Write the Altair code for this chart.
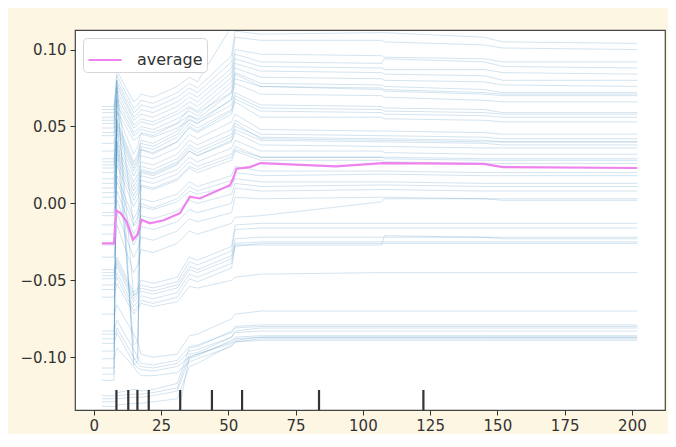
import altair as alt
import pandas as pd

# ---------------- data ----------------
ICE_X = [3, 7.5, 8.6, 14.8, 16.3, 17.5, 22, 31, 35.5, 38.5, 51.2, 52.5, 62, 107, 108, 145, 152, 202]

# top group
t1 = [0.063, 0.063, 0.086, 0.066, 0.068, 0.071, 0.069, 0.076, 0.082, 0.079, 0.115, 0.135, 0.128, 0.127, 0.126, 0.125, 0.122, 0.120]
t2 = [0.061, 0.061, 0.083, 0.062, 0.064, 0.067, 0.065, 0.072, 0.078, 0.075, 0.096, 0.112, 0.110, 0.111, 0.111, 0.108, 0.105, 0.104]
t3 = [0.059, 0.059, 0.080, 0.059, 0.061, 0.064, 0.062, 0.069, 0.075, 0.072, 0.092, 0.108, 0.106, 0.106, 0.105, 0.103, 0.101, 0.100]
t4 = [0.056, 0.056, 0.078, 0.056, 0.058, 0.061, 0.059, 0.066, 0.072, 0.069, 0.088, 0.100, 0.097, 0.096, 0.095, 0.094, 0.092, 0.092]
t5 = [0.054, 0.054, 0.076, 0.054, 0.056, 0.058, 0.056, 0.063, 0.069, 0.066, 0.085, 0.097, 0.092, 0.091, 0.094, 0.092, 0.089, 0.088]
t6 = [0.052, 0.052, 0.073, 0.051, 0.053, 0.055, 0.053, 0.060, 0.066, 0.063, 0.082, 0.094, 0.089, 0.088, 0.087, 0.087, 0.085, 0.084]
t7 = [0.049, 0.049, 0.070, 0.049, 0.051, 0.053, 0.051, 0.058, 0.063, 0.060, 0.079, 0.091, 0.086, 0.085, 0.084, 0.083, 0.080, 0.080]
t8 = [0.046, 0.046, 0.067, 0.046, 0.048, 0.050, 0.048, 0.055, 0.060, 0.057, 0.076, 0.088, 0.082, 0.081, 0.080, 0.079, 0.077, 0.076]
t9 = [0.044, 0.044, 0.064, 0.044, 0.046, 0.048, 0.046, 0.052, 0.057, 0.055, 0.072, 0.085, 0.078, 0.077, 0.076, 0.074, 0.072, 0.072]
t10 = [0.039, 0.039, 0.060, 0.041, 0.043, 0.045, 0.043, 0.049, 0.054, 0.052, 0.068, 0.081, 0.076, 0.075, 0.074, 0.072, 0.071, 0.071]

# middle group
m1 = [0.034, 0.034, 0.059, 0.032, 0.037, 0.046, 0.044, 0.052, 0.062, 0.059, 0.072, 0.084, 0.076, 0.074, 0.073, 0.071, 0.070, 0.070]
m2 = [0.029, 0.029, 0.054, 0.027, 0.032, 0.041, 0.039, 0.047, 0.057, 0.054, 0.067, 0.078, 0.071, 0.070, 0.069, 0.067, 0.066, 0.066]
m3 = [0.027, 0.027, 0.052, 0.025, 0.030, 0.039, 0.037, 0.045, 0.055, 0.052, 0.064, 0.072, 0.064, 0.063, 0.062, 0.061, 0.059, 0.059]
m4 = [0.025, 0.025, 0.050, 0.023, 0.028, 0.037, 0.035, 0.043, 0.052, 0.049, 0.061, 0.070, 0.062, 0.061, 0.060, 0.059, 0.058, 0.058]
m5 = [0.023, 0.023, 0.048, 0.021, 0.026, 0.035, 0.033, 0.040, 0.049, 0.046, 0.058, 0.066, 0.056, 0.056, 0.055, 0.054, 0.053, 0.053]
m6 = [0.020, 0.020, 0.045, 0.018, 0.023, 0.031, 0.029, 0.036, 0.045, 0.042, 0.053, 0.058, 0.048, 0.047, 0.047, 0.046, 0.045, 0.045]
m7 = [0.016, 0.016, 0.041, 0.014, 0.019, 0.027, 0.025, 0.032, 0.041, 0.038, 0.048, 0.054, 0.045, 0.044, 0.044, 0.043, 0.042, 0.042]
m8 = [0.013, 0.013, 0.038, 0.011, 0.016, 0.024, 0.022, 0.029, 0.038, 0.035, 0.045, 0.052, 0.042, 0.041, 0.041, 0.040, 0.040, 0.040]
m9 = [0.010, 0.010, 0.035, 0.008, 0.013, 0.021, 0.019, 0.026, 0.034, 0.031, 0.041, 0.046, 0.038, 0.037, 0.037, 0.036, 0.036, 0.036]
m10 = [0.007, 0.007, 0.032, 0.005, 0.010, 0.018, 0.016, 0.022, 0.030, 0.027, 0.036, 0.041, 0.034, 0.034, 0.033, 0.032, 0.032, 0.032]
m11 = [0.004, 0.004, 0.029, 0.002, 0.007, 0.015, 0.013, 0.019, 0.027, 0.024, 0.032, 0.037, 0.030, 0.030, 0.029, 0.028, 0.028, 0.028]
m12 = [0.000, 0.000, 0.025, -0.002, 0.003, 0.011, 0.009, 0.015, 0.023, 0.020, 0.028, 0.034, 0.028, 0.028, 0.027, 0.026, 0.026, 0.026]

# lower-middle group
lm1 = [-0.006, -0.006, 0.018, -0.010, -0.005, 0.003, 0.001, 0.006, 0.014, 0.011, 0.018, 0.024, 0.021, 0.021, 0.021, 0.020, 0.020, 0.020]
lm2 = [-0.008, -0.008, 0.014, -0.014, -0.009, -0.002, -0.004, 0.001, 0.008, 0.006, 0.011, 0.016, 0.014, 0.014, 0.014, 0.013, 0.013, 0.013]
lm3 = [-0.014, -0.014, 0.008, -0.020, -0.015, -0.008, -0.010, -0.005, 0.002, 0.000, 0.006, 0.013, 0.011, 0.012, 0.012, 0.011, 0.011, 0.011]
lm4 = [-0.020, -0.020, 0.002, -0.027, -0.022, -0.015, -0.017, -0.012, -0.004, -0.006, 0.000, 0.010, 0.008, 0.009, 0.009, 0.008, 0.008, 0.008]
lm5 = [-0.027, -0.027, -0.006, -0.035, -0.030, -0.022, -0.024, -0.018, -0.010, -0.012, -0.006, 0.004, 0.003, 0.004, 0.004, 0.003, 0.003, 0.003]
lm6 = [-0.035, -0.035, -0.014, -0.045, -0.040, -0.030, -0.032, -0.026, -0.018, -0.020, -0.013, -0.009, -0.008, 0.001, 0.003, 0.003, 0.002, 0.002]

# lower group 1
l1a = [-0.043, -0.043, -0.035, -0.058, -0.055, -0.050, -0.052, -0.048, -0.035, -0.037, -0.028, -0.014, -0.013, -0.013, -0.013, -0.013, -0.013, -0.013]
l1b = [-0.045, -0.045, -0.037, -0.060, -0.057, -0.053, -0.055, -0.051, -0.038, -0.040, -0.031, -0.017, -0.016, -0.016, -0.016, -0.016, -0.016, -0.016]
l1c = [-0.047, -0.047, -0.039, -0.062, -0.059, -0.055, -0.057, -0.053, -0.041, -0.043, -0.034, -0.023, -0.022, -0.022, -0.022, -0.022, -0.022, -0.022]
l1d = [-0.049, -0.049, -0.041, -0.064, -0.061, -0.057, -0.059, -0.055, -0.043, -0.045, -0.036, -0.027, -0.027, -0.027, -0.021, -0.022, -0.023, -0.023]
l1e = [-0.053, -0.053, -0.045, -0.067, -0.064, -0.060, -0.062, -0.058, -0.046, -0.048, -0.039, -0.026, -0.025, -0.025, -0.025, -0.025, -0.025, -0.025]
l1f = [-0.056, -0.056, -0.048, -0.070, -0.067, -0.063, -0.065, -0.061, -0.049, -0.051, -0.042, -0.028, -0.026, -0.026, -0.026, -0.026, -0.026, -0.026]
l1g = [-0.061, -0.061, -0.052, -0.072, -0.069, -0.065, -0.067, -0.064, -0.054, -0.055, -0.050, -0.048, -0.046, -0.045, -0.045, -0.045, -0.045, -0.045]

# lower group 2
l2a = [-0.072, -0.072, -0.066, -0.085, -0.090, -0.098, -0.100, -0.098, -0.086, -0.085, -0.075, -0.072, -0.070, -0.070, -0.070, -0.070, -0.070, -0.070]
l2b = [-0.083, -0.083, -0.076, -0.095, -0.100, -0.104, -0.105, -0.102, -0.093, -0.092, -0.084, -0.081, -0.080, -0.080, -0.080, -0.080, -0.080, -0.080]
l2c = [-0.088, -0.088, -0.081, -0.100, -0.104, -0.106, -0.107, -0.104, -0.096, -0.095, -0.087, -0.083, -0.081, -0.081, -0.081, -0.081, -0.081, -0.081]
l2d = [-0.091, -0.091, -0.084, -0.104, -0.107, -0.108, -0.109, -0.106, -0.100, -0.098, -0.091, -0.089, -0.087, -0.087, -0.087, -0.087, -0.087, -0.087]
l2e = [-0.101, -0.101, -0.094, -0.106, -0.110, -0.112, -0.112, -0.110, -0.103, -0.101, -0.093, -0.090, -0.088, -0.088, -0.088, -0.088, -0.088, -0.088]

# bottom group
b1 = [-0.125, -0.125, -0.123, -0.121, -0.121, -0.122, -0.121, -0.117, -0.094, -0.093, -0.083, -0.080, -0.079, -0.079, -0.079, -0.079, -0.079, -0.079]
b2 = [-0.127, -0.127, -0.125, -0.124, -0.124, -0.124, -0.123, -0.120, -0.098, -0.097, -0.087, -0.084, -0.083, -0.083, -0.083, -0.083, -0.083, -0.083]
b3 = [-0.129, -0.129, -0.127, -0.126, -0.126, -0.126, -0.125, -0.122, -0.101, -0.099, -0.089, -0.087, -0.086, -0.086, -0.086, -0.086, -0.086, -0.086]
b4 = [-0.132, -0.132, -0.131, -0.130, -0.130, -0.130, -0.129, -0.127, -0.106, -0.104, -0.092, -0.090, -0.089, -0.089, -0.089, -0.089, -0.089, -0.089]
b5 = [-0.145, -0.145, -0.144, -0.143, -0.143, -0.143, -0.142, -0.140, -0.100, -0.098, -0.090, -0.088, -0.087, -0.087, -0.087, -0.087, -0.087, -0.087]

# lines that jump across the range at the 8 and 17 steps
j1 = [-0.085, -0.085, 0.075, -0.015, -0.012, 0.035, 0.032, 0.040, 0.050, 0.047, 0.060, 0.068, 0.060, 0.059, 0.058, 0.057, 0.056, 0.056]
j2 = [-0.111, -0.111, 0.068, -0.060, -0.058, 0.022, 0.020, 0.027, 0.036, 0.033, 0.043, 0.050, 0.043, 0.042, 0.042, 0.041, 0.040, 0.040]
j3 = [-0.115, -0.115, 0.055, -0.102, -0.100, 0.012, 0.010, 0.016, 0.024, 0.022, 0.030, 0.035, 0.030, 0.030, 0.030, 0.029, 0.029, 0.029]
j4 = [-0.096, -0.096, 0.040, -0.092, -0.090, 0.000, -0.003, 0.003, 0.011, 0.008, 0.015, 0.020, 0.018, 0.019, 0.019, 0.018, 0.018, 0.018]
j5 = [-0.107, -0.107, 0.080, -0.105, -0.103, 0.020, 0.018, 0.025, 0.034, 0.031, 0.040, 0.048, 0.041, 0.040, 0.040, 0.039, 0.038, 0.038]

ICE_LINES = [t1, t2, t3, t4, t5, t6, t7, t8, t9, t10,
             m1, m2, m3, m4, m5, m6, m7, m8, m9, m10, m11, m12,
             lm1, lm2, lm3, lm4, lm5, lm6,
             l1a, l1b, l1c, l1d, l1e, l1f, l1g,
             l2a, l2b, l2c, l2d, l2e,
             b1, b2, b3, b4, b5,
             j1, j2, j3, j4, j5]

# average (partial dependence) line
AVG_X = [3, 7.5, 8.3, 10.0, 12.2, 14.6, 16.3, 17.7, 20.8, 26, 32, 35.7, 39.4, 50.6, 51.8, 53, 58, 62, 90, 107.4, 145, 152, 202]
AVG_Y = [-0.026, -0.026, -0.0045, -0.0065, -0.0118, -0.0236, -0.020, -0.0107, -0.0129, -0.0110,
         -0.0064, 0.0043, 0.0032, 0.0118, 0.0160, 0.0225, 0.0236, 0.0262, 0.0240, 0.0262,
         0.0257, 0.0236, 0.0230]

# deciles (rug)
DECILES = [8.4, 12.8, 16.2, 20.4, 32.1, 43.9, 55.1, 83.7, 122.5]

X_TICKS = [0, 25, 50, 75, 100, 125, 150, 175, 200]
Y_TICKS = [-0.10, -0.05, 0.00, 0.05, 0.10]
X_DOMAIN = [-7.0, 212.3]
Y_DOMAIN = [-0.1343, 0.1127]

# ---------------- tables ----------------
ice_rows = []
for i, ys in enumerate(ICE_LINES):
    for x, y in zip(ICE_X, ys):
        ice_rows.append({"x": x, "y": y, "id": i})
ice_df = pd.DataFrame(ice_rows)
avg_df = pd.DataFrame({"x": AVG_X, "y": AVG_Y, "series": ["average"] * len(AVG_X)})
rug_df = pd.DataFrame({"x": DECILES})

PW, PH = 590, 380
RUG_LEN = 20
FONT = "DejaVu Sans"
INK = "#333333"

xscale = alt.Scale(domain=X_DOMAIN, nice=False, zero=False)
yscale = alt.Scale(domain=Y_DOMAIN, nice=False, zero=False)

xaxis = alt.Axis(values=X_TICKS, title=None, grid=False, domain=False, tickSize=5,
                 tickColor=INK, labelColor=INK, labelFont=FONT, labelFontSize=15,
                 labelPadding=3, labelFlush=False)
yaxis = alt.Axis(values=Y_TICKS, format=".2f", title=None, grid=False, domain=False, tickSize=5,
                 tickColor=INK, labelColor=INK, labelFont=FONT, labelFontSize=15,
                 labelPadding=4, labelFlush=False)

ice = alt.Chart(ice_df).mark_line(clip=True, color="#1f77b4", opacity=0.22, strokeWidth=0.9).encode(
    x=alt.X("x:Q", scale=xscale, axis=xaxis),
    y=alt.Y("y:Q", scale=yscale, axis=yaxis),
    detail="id:N",
)

avg = alt.Chart(avg_df).mark_line(clip=True, strokeWidth=2.2).encode(
    x=alt.X("x:Q", scale=xscale),
    y=alt.Y("y:Q", scale=yscale),
    color=alt.Color("series:N",
                    scale=alt.Scale(domain=["average"], range=["violet"]),
                    legend=alt.Legend(title=None, orient="top-left", offset=8, padding=4,
                                      fillColor="white", strokeColor="#d6d6d6", cornerRadius=4,
                                      symbolType="stroke", symbolStrokeWidth=2.2, symbolSize=1100,
                                      labelFont=FONT, labelFontSize=16, labelColor=INK,
                                      labelOffset=14)),
)

rug = alt.Chart(rug_df).mark_rule(color="#333333", strokeWidth=2.2).encode(
    x=alt.X("x:Q", scale=xscale),
    y=alt.value(PH - RUG_LEN),
    y2=alt.value(PH),
)

chart = alt.layer(ice, avg, rug).properties(
    width=PW, height=PH,
    padding={"left": 67, "top": 22, "right": 3, "bottom": 24},
    autosize=alt.AutoSizeParams(type="none"),
).configure(background="#fdf6e3").configure_view(fill="white", stroke="#444444", strokeWidth=1.2)

chart.save("out.html", embed_options={"renderer": "svg", "actions": False})
